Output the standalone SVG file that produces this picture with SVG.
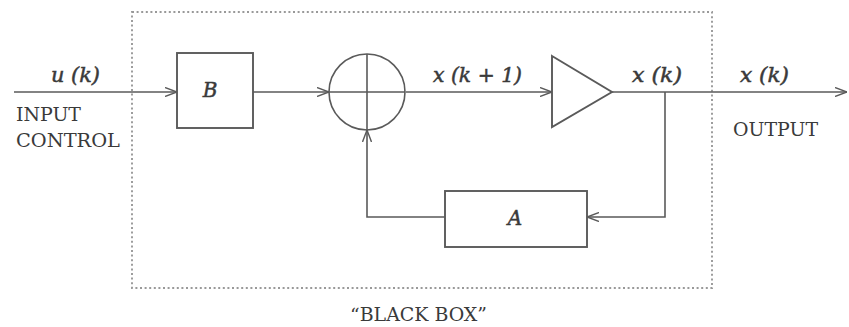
<svg xmlns="http://www.w3.org/2000/svg" width="849" height="327" viewBox="0 0 849 327">
<style>
.ln{fill:none;stroke:#5a5a5a;stroke-width:1.6}
.bx{fill:#fff;stroke:#5a5a5a;stroke-width:1.9}
.t{font-family:"DejaVu Serif","Liberation Serif",serif;font-size:19px;fill:#3a3a3a}
.m{font-family:"DejaVu Serif","Liberation Serif",serif;font-size:20px;font-style:italic;fill:#3a3a3a;stroke:#3a3a3a;stroke-width:0.5}
</style>
<defs>
<marker id="ar" viewBox="0 0 12 10" refX="12" refY="5" markerWidth="12" markerHeight="10" markerUnits="userSpaceOnUse" orient="auto">
<path d="M0,0.5 L12,5 L0,9.5" fill="none" stroke="#5a5a5a" stroke-width="1.4"/>
</marker>
</defs>
<rect x="132" y="12" width="580" height="276" fill="none" stroke="#999" stroke-width="1.9" stroke-dasharray="2,2.6"/>
<g id="connectors">
<path class="ln" d="M14,92 H177" marker-end="url(#ar)"/>
<path class="ln" d="M253,92 H329" marker-end="url(#ar)"/>
<path class="ln" d="M406,92 H552" marker-end="url(#ar)"/>
<path class="ln" d="M612,92 H847" marker-end="url(#ar)"/>
<path class="ln" d="M665,92 V217 H587" marker-end="url(#ar)"/>
<path class="ln" d="M445,217 H367 V130" marker-end="url(#ar)"/>
</g>
<g id="B"><rect class="bx" x="177" y="53" width="76" height="75"/><text class="m" x="210" y="97" text-anchor="middle">B</text></g>
<g id="sum"><circle class="ln" cx="367" cy="92" r="38"/><path class="ln" d="M329,92 H405 M367,54 V130"/></g>
<g id="gain"><path class="bx" d="M552,56 L612,92 L552,127 Z"/></g>
<g id="A"><rect class="bx" x="445" y="191" width="142" height="56"/><text class="m" x="515" y="225" text-anchor="middle">A</text></g>
<g id="labels">
<text class="m" x="51" y="82" textLength="49" lengthAdjust="spacingAndGlyphs">u (k)</text>
<text class="t" x="16" y="121" textLength="65" lengthAdjust="spacingAndGlyphs">INPUT</text>
<text class="t" x="16" y="147" textLength="104" lengthAdjust="spacingAndGlyphs">CONTROL</text>
<text class="m" x="433" y="82" textLength="89" lengthAdjust="spacingAndGlyphs">x (k + 1)</text>
<text class="m" x="632" y="82" textLength="50" lengthAdjust="spacingAndGlyphs">x (k)</text>
<text class="m" x="740" y="82" textLength="49" lengthAdjust="spacingAndGlyphs">x (k)</text>
<text class="t" x="733" y="136" textLength="85" lengthAdjust="spacingAndGlyphs">OUTPUT</text>
<text class="t" x="350" y="321" textLength="137" lengthAdjust="spacingAndGlyphs">“BLACK BOX”</text>
</g>
</svg>
